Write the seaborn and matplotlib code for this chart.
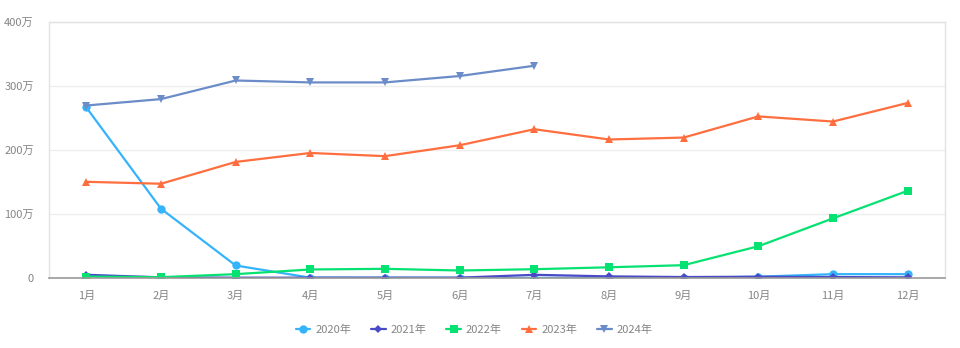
import numpy as np
import pandas as pd
import matplotlib
matplotlib.use("Agg")
import matplotlib.pyplot as plt
import seaborn as sns
from matplotlib.lines import Line2D

months = ["1月", "2月", "3月", "4月", "5月", "6月", "7月", "8月", "9月", "10月", "11月", "12月"]
years = ["2020年", "2021年", "2022年", "2023年", "2024年"]
v2020 = [266, 108, 19.5, 0.5, 0.4, 0.3, 0.2, 0.2, 0.3, 2, 6, 6]
v2021 = [5, 1, 0.5, 0.5, 0.5, 0.5, 5, 2.5, 1.5, 2, 1.5, 1]
v2022 = [2.3, 1.3, 6, 13.3, 14.3, 11.7, 13.7, 16.7, 20, 49.5, 93, 136]
v2023 = [150, 147, 181, 195, 190, 207, 232, 216, 219, 252, 244, 273]
v2024 = [269, 279, 308, 305, 305, 315, 331, np.nan, np.nan, np.nan, np.nan, np.nan]
yticks = [0, 100, 200, 300, 400]
ytick_labels = ["0", "100万", "200万", "300万", "400万"]

colors = ["#35b3fb", "#4a4ac8", "#06e272", "#ff6e3e", "#6b8cc8"]
markers = ["o", "D", "s", "^", "v"]
msizes = [6, 4.5, 6, 6, 6]

series = [v2020, v2021, v2022, v2023, v2024]
rows = []
for y, vals in zip(years, series):
    for i, v in enumerate(vals):
        rows.append({"year": y, "idx": i, "value": v})
df = pd.DataFrame(rows)

sns.set_theme(style="white")
plt.rcParams['font.family'] = ['Noto Sans CJK SC', 'DejaVu Sans']

fig = plt.figure(figsize=(9.6, 3.48), dpi=100)
ax = fig.add_axes([49/960, 1 - 278/348, (945-49)/960, (278-21.5)/348])

for y, c, m, ms in zip(years, colors, markers, msizes):
    sub = df[df["year"] == y].dropna()
    sns.lineplot(data=sub, x="idx", y="value", ax=ax, color=c, marker=m,
                 markersize=ms, markeredgewidth=0, linewidth=1.6, legend=False)

ax.set_xlim(-0.5, len(months) - 0.5)
ax.set_ylim(0, 400)
ax.set_xticks(range(len(months)))
ax.set_xticklabels(months)
ax.set_yticks(yticks)
ax.set_yticklabels(ytick_labels)
ax.set_xlabel("")
ax.set_ylabel("")
ax.tick_params(axis="both", length=0, labelsize=8, labelcolor="#858585")
ax.tick_params(axis="y", pad=11)
ax.tick_params(axis="x", pad=9)
ax.grid(axis="y", color="#eeeeee", linewidth=1)
ax.set_axisbelow(True)
for s in ["left", "top", "right"]:
    ax.spines[s].set_color("#e2e2e2")
    ax.spines[s].set_linewidth(1)
ax.spines["bottom"].set_color("#999999")
ax.spines["bottom"].set_linewidth(1.2)

handles = [Line2D([0], [0], color=c, marker=m, markersize=ms, markeredgewidth=0, linewidth=1.6)
           for c, m, ms in zip(colors, markers, msizes)]
leg = fig.legend(handles, years, loc="center", bbox_to_anchor=(0.494, 1 - 330/348), ncol=5,
                 frameon=False, fontsize=8, handlelength=1.3, handletextpad=0.45, columnspacing=1.8)
for t in leg.get_texts():
    t.set_color("#858585")

fig.savefig("out.png", dpi=100)
